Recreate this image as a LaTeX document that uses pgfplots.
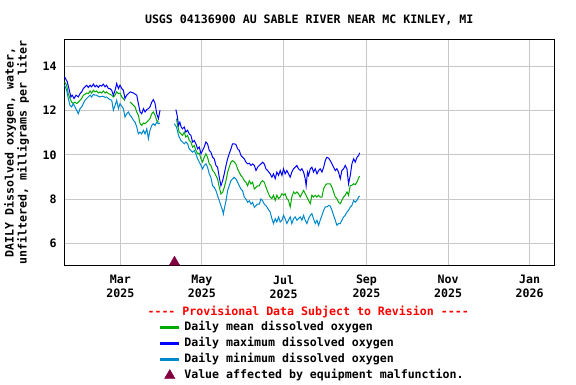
\documentclass[border=0pt]{standalone}
\usepackage{fontspec}
\setmonofont{DejaVu Sans Mono}
\usepackage{pgfplots}
\pgfplotsset{compat=1.18}
\newcommand\mono{\ttfamily\bfseries\fontsize{11.6}{14}\selectfont}
\definecolor{cmean}{RGB}{0,170,0}
\definecolor{cmax}{RGB}{0,0,255}
\definecolor{cmin}{RGB}{0,136,204}
\definecolor{cmark}{RGB}{128,0,64}
\definecolor{cgrid}{RGB}{200,200,200}
\begin{document}
\begin{tikzpicture}
\path[use as bounding box] (0,0) rectangle (576pt,384pt);
\begin{axis}[
 at={(64.3pt,118.7pt)}, anchor=south west,
 scale only axis, width=489.7pt, height=226pt,
 xmin=17.14, xmax=383.16, ymin=5.0, ymax=15.23,
 xtick={59,120,181,243,304,365},
 xticklabels={Mar\\2025,May\\2025,Jul\\2025,Sep\\2025,Nov\\2025,Jan\\2026},
 ytick={6,8,10,12,14},
 grid=major, major grid style={draw=cgrid, line width=1pt},
 axis line style={line width=1pt},
 major tick length=0pt,
 tick label style={font=\mono},
 xticklabel style={align=center, inner sep=0pt, anchor=north, yshift=-9.7pt},
 yticklabel style={inner sep=0pt, anchor=east, xshift=-7.6pt},
 /pgf/number format/assume math mode=true,
 title={USGS 04136900 AU SABLE RIVER NEAR MC KINLEY, MI},
 title style={font=\mono, at={(axis description cs:0.5,1.0412)}, anchor=base, inner sep=0pt},
 ylabel={DAILY Dissolved oxygen, water,\\unfiltered, milligrams per liter},
 ylabel style={font=\ttfamily\bfseries\fontsize{11.6}{13}\selectfont, align=center, at={(axis description cs:-0.0976,0.5)}, anchor=center},
 unbounded coords=jump,
 clip=false,
 legend style={at={(axis description cs:0.1954,-0.2398)}, anchor=north west, draw=none, fill=none, inner sep=0pt, outer sep=0pt, row sep=0pt, font=\mono, nodes={inner sep=0pt, text height=11.2pt, text depth=4.8pt}},
 legend cell align=left,
]
\addplot[cmean, line width=1pt, legend image code/.code={\path (0pt,0pt) (23.3pt,0pt); \fill[cmean] (0pt,-0.75pt) rectangle (18.3pt,0.75pt);}] coordinates {
(17.4,13.30)(18.9,13.15)(20.1,12.77)(21.4,12.55)(22.6,12.39)(23.9,12.32)(25.1,12.39)(26.4,12.32)(27.6,12.39)(28.9,12.47)(30.1,12.55)(31.4,12.70)(32.6,12.74)(33.9,12.80)(35.1,12.77)(36.4,12.89)(37.6,12.80)(38.9,12.92)(40.1,12.85)(41.3,12.89)(42.6,12.80)(43.8,12.85)(45.1,12.80)(46.3,12.89)(47.6,12.80)(48.8,12.85)(50.1,12.77)(51.3,12.74)(52.6,12.70)(53.8,12.62)(55.1,12.70)(56.3,12.85)(57.6,12.77)(58.8,12.80)(60.1,12.62)(61.3,12.55)(62.3,12.45)
(64,nan)
(66.3,12.39)(67.5,12.32)(68.8,12.24)(70.0,12.17)(71.3,11.94)(72.5,11.79)(73.8,11.41)(75.0,11.33)(76.3,11.44)(77.5,11.41)(78.8,11.48)(80.0,11.56)(81.2,11.64)(82.5,11.86)(83.7,11.94)(85.0,11.79)(86.2,11.56)(87.5,11.48)
(94,nan)
(101,11.64)(101.8,11.33)(103,11.03)(104.3,10.95)(105.5,10.88)(106.8,11.03)(108,10.80)(109.3,10.88)(110.5,10.65)(111.8,10.58)(113,10.35)(114.3,10.42)(115.5,10.20)(116.8,10.05)(118,10.08)(119.3,9.82)(120.5,9.67)(121.7,9.89)(123,10.05)(124.2,9.89)(125.5,9.59)(126.7,9.52)(128,9.29)(129.2,9.21)(130.5,9.06)(131.7,8.91)(133,8.53)(134.2,8.23)(135.5,8.30)(136.7,8.53)(138,8.83)(139.2,9.21)(140.4,9.44)(141.7,9.67)(142.9,9.74)(144.2,9.67)(145.4,9.59)(146.7,9.36)(147.9,9.21)(149.2,9.06)(150.4,8.98)(151.7,8.83)(152.9,8.76)(154.2,8.60)(155.4,8.83)(156.7,8.68)(157.9,8.76)(159.2,8.45)(160.4,8.53)(161.6,8.60)(162.9,8.60)(164.1,8.76)(165.4,8.83)(166.6,8.76)(167.9,8.53)(169.5,8.28)
(171.0,8.09)(172.3,8.02)(173.5,8.17)(174.8,7.94)(176.0,8.17)(177.3,8.02)(178.5,8.09)(179.8,8.24)(181.0,8.17)(182.2,8.24)(183.5,8.02)(184.7,7.94)(186.0,7.64)(187.2,8.09)(188.5,8.32)(189.7,8.24)(191.0,8.32)(192.2,8.24)(193.5,8.09)(194.7,8.24)(196.0,8.39)(197.2,8.24)(198.5,8.09)(199.7,7.94)(201.0,7.79)(202.2,8.17)(203.4,8.09)(204.7,8.17)(206.0,8.09)(207.2,8.17)(208.4,8.09)(209.7,8.09)(211.0,8.47)(212.2,8.62)(213.4,8.69)(214.7,8.69)(215.9,8.69)(217.2,8.54)(218.4,8.32)(219.7,8.09)(220.9,8.02)(222.1,7.86)(223.4,7.79)(224.6,7.94)(225.9,8.09)(227.1,8.17)(228.4,8.32)(229.6,8.17)(230.9,8.62)(232.1,8.62)(233.4,8.69)(234.6,8.65)(235.9,8.77)(237.1,8.95)(237.9,9.04)
};
\addlegendentry{Daily mean dissolved oxygen}
\addplot[cmax, line width=1pt, legend image code/.code={\path (0pt,0pt) (23.3pt,0pt); \fill[cmax] (0pt,-0.75pt) rectangle (18.3pt,0.75pt);}] coordinates {
(17.4,13.53)(19.4,13.30)(20.9,12.92)(22.1,12.62)(23.1,12.70)(24.4,12.55)(25.9,12.70)(27.6,12.62)(28.9,12.77)(30.1,12.85)(31.4,13.00)(32.6,13.08)(33.9,13.15)(35.1,13.05)(36.4,13.15)(37.6,13.08)(38.9,13.20)(40.1,13.08)(41.3,13.15)(42.6,13.05)(43.8,13.15)(45.1,13.11)(46.3,13.20)(47.6,13.08)(48.8,13.15)(50.1,13.00)(51.3,13.00)(52.6,12.92)(53.8,12.70)(55.1,12.92)(56.3,13.23)(57.6,13.00)(58.8,13.15)(60.1,13.00)(61.3,12.92)(62.5,12.55)(63.8,12.70)(65.0,12.77)(66.3,12.85)(68.8,12.80)(71.3,12.70)(72.5,12.32)(73.8,11.94)(75.0,11.86)(76.3,12.09)(77.5,11.94)(78.8,12.05)(80.0,12.09)(81.2,12.17)(82.5,12.39)(83.7,12.50)(85.0,12.32)(86.2,11.86)(87.5,11.64)(88.7,12.02)
(94,nan)
(100.5,12.05)(101.5,11.79)(102.5,11.33)(103.5,11.48)(104.5,11.26)(105.5,11.18)(106.8,11.26)(108,11.03)(109.3,11.11)(110.5,10.95)(111.8,10.88)(113,10.58)(114.3,10.65)(115.5,10.50)(116.8,10.27)(118,10.35)(119.3,10.05)(120.5,10.20)(121.7,10.35)(123,10.58)(124.2,10.50)(125.5,10.20)(126.7,10.12)(128,9.89)(129.2,9.82)(130.5,9.52)(131.7,9.44)(133,8.98)(134.2,8.60)(135.5,8.83)(136.7,9.14)(138,9.52)(139.2,9.82)(140.4,10.05)(141.7,10.27)(142.9,10.50)(144.2,10.50)(145.4,10.47)(146.7,10.27)(147.9,10.20)(149.2,9.97)(150.4,9.89)(151.7,9.82)(152.9,9.67)(154.2,9.59)(155.4,9.62)(156.7,9.52)(157.9,9.59)(159.2,9.52)(160.4,9.29)(161.6,9.44)(162.9,9.52)(164.1,9.59)(165.4,9.67)(166.6,9.59)(167.9,9.36)(169.1,9.29)
(171.0,9.14)(172.3,8.99)(173.5,9.14)(174.8,8.92)(176.0,9.22)(177.3,9.07)(178.5,9.29)(179.8,9.07)(181.0,9.37)(182.2,9.14)(183.5,9.29)(184.7,9.14)(186.0,8.99)(187.2,9.22)(188.5,9.37)(189.7,9.44)(191.0,9.52)(192.2,9.37)(193.5,9.29)(194.7,9.37)(196.0,9.22)(197.2,8.92)(197.9,8.60)(198.9,9.22)(199.7,9.07)(201.0,9.37)(202.2,9.44)(203.4,9.22)(204.7,9.37)(206.0,9.14)(207.2,9.29)(208.4,9.37)(209.7,9.22)(211.0,9.44)(212.2,9.74)(213.4,9.89)(214.7,9.85)(215.9,9.74)(217.2,9.59)(218.4,9.44)(219.7,9.29)(220.9,9.37)(222.1,9.22)(223.4,8.92)(224.6,9.29)(225.9,9.37)(227.1,9.52)(228.4,9.37)(229.6,8.69)(230.9,9.07)(232.1,9.59)(233.4,9.82)(234.6,9.67)(235.9,9.89)(237.1,9.97)(237.9,10.09)
};
\addlegendentry{Daily maximum dissolved oxygen}
\addplot[cmin, line width=1pt, legend image code/.code={\path (0pt,0pt) (23.3pt,0pt); \fill[cmin] (0pt,-0.75pt) rectangle (18.3pt,0.75pt);}] coordinates {
(17.4,13.15)(18.9,12.92)(20.1,12.55)(21.4,12.24)(22.6,12.17)(23.9,12.32)(25.1,12.17)(26.4,12.02)(27.6,11.86)(28.9,12.09)(30.1,12.17)(31.4,12.32)(32.6,12.47)(33.9,12.55)(35.1,12.62)(36.4,12.70)(37.6,12.62)(38.9,12.74)(40.1,12.70)(41.3,12.70)(42.6,12.65)(43.8,12.62)(45.1,12.65)(46.3,12.65)(47.6,12.60)(48.8,12.62)(50.1,12.55)(51.3,12.50)(52.6,12.47)(53.8,12.02)(55.1,12.24)(56.3,12.47)(57.6,12.09)(58.8,12.32)(60.1,12.20)(61.3,12.09)(62.5,11.71)(63.8,11.86)(65.0,11.94)(66.3,11.79)(67.5,11.71)(68.8,11.56)(70.0,11.48)(71.3,11.26)(72.5,10.95)(73.8,11.03)(75.0,10.95)(76.3,11.11)(77.5,10.95)(78.8,11.18)(80.0,10.73)(81.2,11.11)(82.5,11.33)(83.7,11.41)(85.0,11.33)(86.2,11.48)(87.5,11.41)(88.7,11.44)
(94,nan)
(99.3,11.41)(101,11.26)(102.5,10.88)(104.3,10.65)(105.5,10.58)(106.8,10.50)(108,10.58)(109.3,10.50)(110.5,10.27)(111.8,10.20)(113,10.12)(114.3,10.20)(115.5,10.05)(116.8,9.82)(118,9.67)(119.3,9.52)(120.5,9.36)(121.7,9.52)(123,9.59)(124.2,9.44)(125.5,9.14)(126.7,8.98)(128,8.60)(129.2,8.53)(130.5,8.38)(131.7,8.15)(133,7.92)(134.2,7.70)(135.5,7.47)(136,7.32)(136.7,7.55)(138,7.92)(139.2,8.38)(140.4,8.60)(141.7,8.83)(142.9,8.91)(144.2,8.98)(145.4,8.91)(146.7,8.76)(147.9,8.60)(149.2,8.45)(150.4,8.38)(151.7,8.08)(152.9,8.00)(154.2,7.85)(155.4,7.92)(156.7,7.77)(157.9,7.85)(159.2,7.62)(160.4,7.70)(161.6,7.77)(162.9,7.77)(164.1,8.00)(165.4,7.92)(166.6,7.77)(167.9,7.70)(169.5,7.55)
(171.0,7.41)(172.3,7.11)(173.5,6.89)(174.8,7.11)(176.0,6.96)(177.3,7.19)(178.5,6.96)(179.8,7.04)(181.0,7.26)(182.2,7.11)(183.5,6.89)(184.7,7.04)(186.0,7.19)(187.2,6.89)(188.5,7.11)(189.7,7.19)(191.0,7.04)(192.2,7.11)(193.5,7.19)(194.7,7.04)(196.0,7.26)(197.2,7.04)(198.5,6.89)(199.7,7.11)(201.0,7.26)(202.2,7.34)(203.4,7.11)(204.7,6.89)(206.0,7.04)(207.2,6.81)(208.4,7.04)(209.7,7.26)(211.0,7.49)(212.2,7.64)(213.4,7.64)(214.7,7.71)(215.9,7.68)(217.2,7.49)(218.4,7.26)(219.7,7.04)(220.9,6.81)(222.1,6.89)(223.4,6.89)(224.6,7.04)(225.9,7.19)(227.1,7.26)(228.4,7.41)(229.6,7.49)(230.9,7.64)(232.1,7.71)(233.4,7.94)(234.6,7.86)(235.9,7.94)(237.1,8.09)(237.9,8.14)
};
\addlegendentry{Daily minimum dissolved oxygen}
\addplot[only marks, mark=triangle*, mark size=6pt, mark options={draw=cmark, fill=cmark}, legend image code/.code={\path (0pt,0pt) (23.3pt,0pt); \draw[draw=none, mark=triangle*, mark size=6pt, mark options={draw=cmark, fill=cmark}] plot coordinates {(9.3pt,0pt)};}] coordinates {(99.5,5.14)};
\addlegendentry{Value affected by equipment malfunction.}
\node[font=\mono, text=red, anchor=base, inner sep=0pt] at (axis description cs:0.498,-0.2199) {---- Provisional Data Subject to Revision ----};
\end{axis}
\end{tikzpicture}
\end{document}
